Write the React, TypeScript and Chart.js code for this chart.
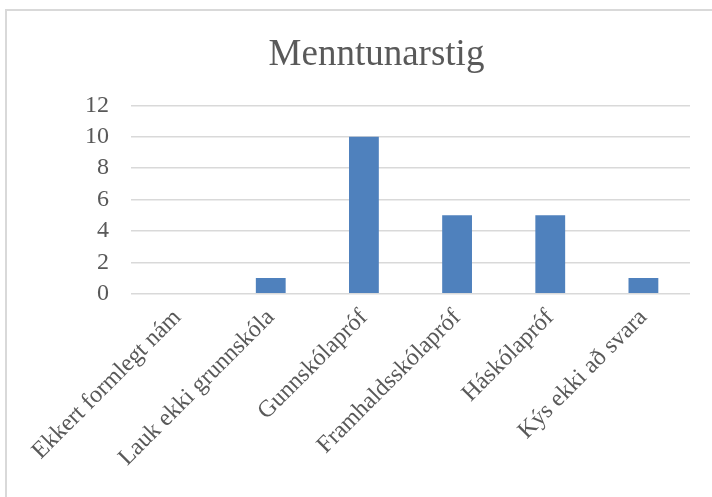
import React, { useEffect, useRef } from "react";
import { Chart, registerables } from "chart.js";

Chart.register(...registerables);

const categories = [
  "Ekkert formlegt nám",
  "Lauk ekki grunnskóla",
  "Gunnskólapróf",
  "Framhaldsskólapróf",
  "Háskólapróf",
  "Kýs ekki að svara",
];
const values = [0, 1, 10, 5, 5, 1];
const yMax = 12;
const yStep = 2;
const chartTitle = "Menntunarstig";

const FONT = "'Liberation Serif', 'DejaVu Serif', serif";
const GRAY = "#595959";

export default function App() {
  const ref = useRef<HTMLCanvasElement | null>(null);
  useEffect(() => {
    if (!ref.current) return;
    const chart = new Chart(ref.current, {
      type: "bar",
      data: {
        labels: categories,
        datasets: [
          {
            data: values,
            backgroundColor: "#4f81bd",
            borderWidth: 0,
            categoryPercentage: 1,
            barPercentage: 0.32,
          },
        ],
      },
      options: {
        responsive: false,
        animation: false,
        layout: { padding: { left: 56, right: 22, top: 0, bottom: 23 } },
        plugins: {
          legend: { display: false },
          tooltip: { enabled: false },
          title: {
            display: true,
            text: chartTitle,
            color: GRAY,
            font: { family: FONT, size: 37, weight: "normal" },
            padding: { top: 22, bottom: 28 },
          },
        },
        scales: {
          x: {
            grid: { display: false },
            border: { display: false },
            ticks: {
              color: GRAY,
              font: { family: FONT, size: 24 },
              minRotation: 45,
              maxRotation: 45,
              padding: 2,
              autoSkip: false,
            },
          },
          y: {
            min: 0,
            max: yMax,
            grid: { color: "#d9d9d9", lineWidth: 1.5, drawTicks: false },
            border: { display: false },
            ticks: {
              stepSize: yStep,
              autoSkip: false,
              color: GRAY,
              font: { family: FONT, size: 24, lineHeight: 1 },
              padding: 22,
            },
          },
        },
      },
    });
    return () => chart.destroy();
  }, []);
  return (
    <div>
      <div
        style={{
          position: "absolute",
          left: 5,
          top: 9,
          width: 720,
          height: 500,
          border: "2px solid #d9d9d9",
          background: "#fff",
        }}
      />
      <div style={{ position: "absolute", left: 7, top: 11 }}>
        <canvas ref={ref} width={705} height={486} />
      </div>
    </div>
  );
}
